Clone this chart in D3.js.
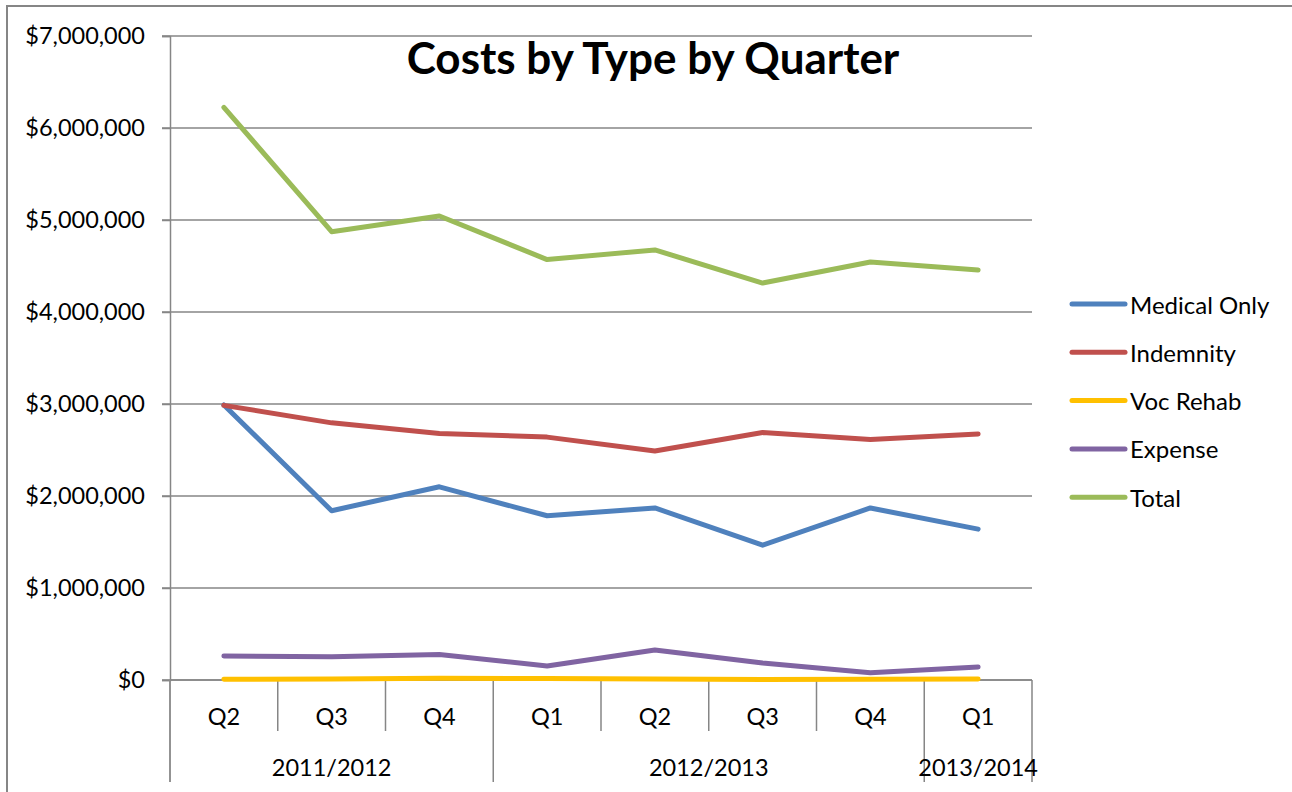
<!DOCTYPE html>
<html><head><meta charset="utf-8">
<script src="https://cdn.jsdelivr.net/npm/d3@7"></script>
<style>body{margin:0;background:#fff} text{font-family:Lato, "Noto Sans", sans-serif; fill:#000}</style>
</head><body><svg id="c" width="1292" height="792"></svg>
<script>
const quarters = ["Q2","Q3","Q4","Q1","Q2","Q3","Q4","Q1"];
const fiscalYears = ["2011/2012","2012/2013","2013/2014"];
const yearSpans = [3, 4, 1];
const seriesNames = ["Medical Only","Indemnity","Voc Rehab","Expense","Total"];
const seriesColors = ["#4F81BD","#C0504D","#FFC000","#8064A2","#9BBB59"];
const medicalOnly = [2990000,1840000,2100000,1785000,1870000,1465000,1870000,1640000];
const indemnity   = [2985000,2795000,2680000,2640000,2490000,2690000,2615000,2675000];
const vocRehab    = [8000,10000,18000,16000,10000,5000,8000,10000];
const expense     = [260000,253000,278000,152000,326000,185000,80000,142000];
const total       = [6225000,4873000,5043000,4570000,4675000,4315000,4543000,4457000];
const yTicks = [0,1000000,2000000,3000000,4000000,5000000,6000000,7000000];
const title = "Costs by Type by Quarter";

const seriesData = [medicalOnly, indemnity, vocRehab, expense, total];
const svg = d3.select("#c");
const gray = "#868686";
const L = 170, R = 1032, T = 36, B = 680;
const FS = 23.5;

// outer border
svg.append("rect").attr("x",7).attr("y",6).attr("width",1300).attr("height",800)
  .attr("fill","none").attr("stroke",gray).attr("stroke-width",2);

const x = d3.scaleBand().domain(d3.range(quarters.length)).range([L,R]);
const y = d3.scaleLinear().domain([0,7000000]).range([B,T]);

// gridlines
svg.append("g").selectAll("line").data(yTicks).join("line")
  .attr("x1",162).attr("x2",R).attr("y1",d=>y(d)).attr("y2",d=>y(d))
  .attr("stroke",gray).attr("stroke-width",1.5);

// y axis
const ya = svg.append("g").attr("transform",`translate(${L},0)`)
  .call(d3.axisLeft(y).tickValues(yTicks).tickFormat(d3.format("$,")).tickSize(8).tickPadding(17));
ya.selectAll("path,line").attr("stroke",gray).attr("stroke-width",1.5);
ya.selectAll("text").attr("font-size",FS).attr("font-family","Lato").attr("fill","#000");

// y axis extension below
svg.append("line").attr("x1",L).attr("x2",L).attr("y1",B).attr("y2",782).attr("stroke","#a6a6a6").attr("stroke-width",1.5);

// x axis line
svg.append("line").attr("x1",L).attr("x2",R).attr("y1",B).attr("y2",B).attr("stroke",gray).attr("stroke-width",1.5);

// category boundaries
const boundaries = d3.range(quarters.length+1).map(i => i===quarters.length ? R : x(i));
const groupEdges = [0]; yearSpans.reduce((a,s)=>{groupEdges.push(a+s); return a+s;},0);
svg.append("g").selectAll("line").data(boundaries.map((b,i)=>({b,i}))).join("line")
  .attr("x1",d=>d.b).attr("x2",d=>d.b).attr("y1",B)
  .attr("y2",d=> groupEdges.includes(d.i) ? 782 : 731)
  .attr("stroke",gray).attr("stroke-width",1.5);

// quarter labels
svg.append("g").selectAll("text").data(quarters).join("text")
  .attr("x",(d,i)=>x(i)+x.bandwidth()/2).attr("y",716)
  .attr("text-anchor","middle").attr("dominant-baseline","central")
  .attr("font-size",FS).text(d=>d);

// year labels
svg.append("g").selectAll("text").data(fiscalYears).join("text")
  .attr("x",(d,i)=>(boundaries[groupEdges[i]]+boundaries[groupEdges[i+1]])/2).attr("y",767)
  .attr("text-anchor","middle").attr("dominant-baseline","central")
  .attr("font-size",FS).text(d=>d);

// lines
const line = d3.line().x((d,i)=>x(i)+x.bandwidth()/2).y(d=>y(d));
svg.append("g").selectAll("path").data(seriesData).join("path")
  .attr("d",line).attr("fill","none")
  .attr("stroke",(d,i)=>seriesColors[i]).attr("stroke-width",5)
  .attr("stroke-linecap","round").attr("stroke-linejoin","round");

// title
svg.append("text").attr("x",653).attr("y",74).attr("text-anchor","middle")
  .attr("font-size",44).attr("font-weight","bold").text(title);

// legend
const lg = svg.append("g").selectAll("g").data(seriesNames).join("g")
  .attr("transform",(d,i)=>`translate(0,${304 + i*48.3})`);
lg.append("line").attr("x1",1072).attr("x2",1125).attr("y1",0).attr("y2",0)
  .attr("stroke",(d,i)=>seriesColors[i]).attr("stroke-width",5).attr("stroke-linecap","round");
lg.append("text").attr("x",1130).attr("y",0).attr("dominant-baseline","central")
  .attr("font-size",24).text(d=>d);
</script></body></html>
